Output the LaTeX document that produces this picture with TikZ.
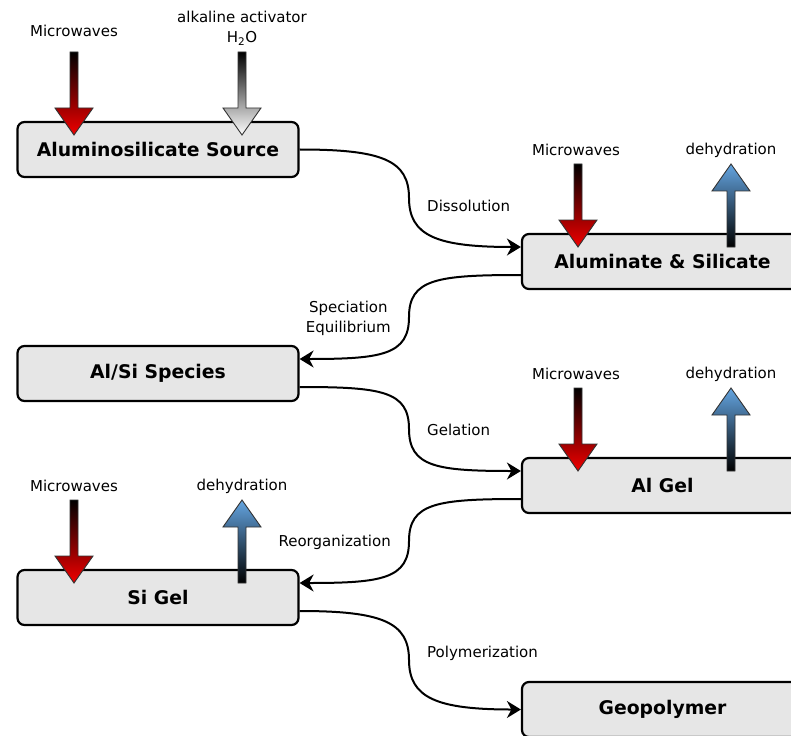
\documentclass[tikz,border=0pt]{standalone}
\usepackage{fontspec}
\setmainfont{DejaVu Sans}
\usetikzlibrary{arrows.meta}
\definecolor{boxgray}{RGB}{230,230,230}
\definecolor{mwred}{RGB}{240,0,0}
\definecolor{dehblue}{RGB}{100,165,225}
\tikzset{
  downarr/.pic={\shade[pic actions] (-4,0) -- (4,0) -- (4,56) -- (19,56) -- (0,83) -- (-19,56) -- (-4,56) -- cycle;},
  uparr/.pic={\shade[pic actions] (-4,0) -- (4,0) -- (4,-56) -- (19,-56) -- (0,-83) -- (-19,-56) -- (-4,-56) -- cycle;},
}
\begin{document}
\begin{tikzpicture}[x=1pt,y=-1pt,
  box/.style={draw=black, line width=2.2pt, fill=boxgray, rounded corners=7pt,
    minimum width=281pt, minimum height=55pt, inner sep=0pt,
    font=\fontsize{18.8}{22}\selectfont\bfseries},
  lbl/.style={font=\fontsize{15}{20}\selectfont, inner sep=0pt, align=center},
  conn/.style={line width=2pt, -{Stealth[length=14pt,width=17pt,inset=4.5pt]}},
  redarr/.style={draw=black!80, line width=0.9pt, top color=black, bottom color=mwred},
  grayarr/.style={draw=black!80, line width=0.9pt, top color=black, bottom color=white},
  bluearr/.style={draw=black!80, line width=0.9pt, top color=dehblue, bottom color=black},
]
\clip (0,0) rectangle (791,735);

% boxes
\node[box] (src) at (158,149.5) {Aluminosilicate Source};
\node[box] (als) at (662.5,261.5) {Aluminate \& Silicate};
\node[box] (spe) at (158,373.5) {Al/Si Species};
\node[box] (alg) at (662.5,485.5) {Al Gel};
\node[box] (sig) at (158,597.5) {Si Gel};
\node[box] (geo) at (662.5,709.5) {Geopolymer};

% block arrows
\pic[redarr] at (74,52) {downarr};
\pic[grayarr] at (242,52) {downarr};
\pic[redarr] at (578,164) {downarr};
\pic[bluearr] at (731,247) {uparr};
\pic[redarr] at (578,388) {downarr};
\pic[bluearr] at (731,471) {uparr};
\pic[redarr] at (74,500) {downarr};
\pic[bluearr] at (242,583) {uparr};

% arrow labels
\node[lbl] (t1) at (74,31) {Microwaves};
\node[lbl] (t2) at (242,28) {alkaline activator\\H\textsubscript{2}O};
\node[lbl] (t3) at (576,150) {Microwaves};
\node[lbl] (t4) at (731,150) {dehydration};
\node[lbl] (t5) at (576,374) {Microwaves};
\node[lbl] (t6) at (731,374) {dehydration};
\node[lbl] (t7) at (74,486) {Microwaves};
\node[lbl] (t8) at (242,486) {dehydration};

% connectors
\coordinate (m1) at (409,198);
\coordinate (m2) at (409,317);
\coordinate (m3) at (409,429);
\coordinate (m4) at (409,541);
\coordinate (m5) at (409,660);
\draw[conn] (src.east) .. controls +(82,0) and +(0,-38) .. (m1)
  .. controls +(0,38) and +(-84,0) .. ([yshift=14.5pt]als.west);
\draw[conn] ([yshift=-13.5pt]als.west) .. controls +(-84,0) and +(0,-38) .. (m2)
  .. controls +(0,38) and +(82,0) .. ([yshift=14.5pt]spe.east);
\draw[conn] ([yshift=-13.5pt]spe.east) .. controls +(82,0) and +(0,-38) .. (m3)
  .. controls +(0,38) and +(-84,0) .. ([yshift=14.5pt]alg.west);
\draw[conn] ([yshift=-13.5pt]alg.west) .. controls +(-84,0) and +(0,-38) .. (m4)
  .. controls +(0,38) and +(82,0) .. ([yshift=14.5pt]sig.east);
\draw[conn] ([yshift=-13.5pt]sig.east) .. controls +(82,0) and +(0,-38) .. (m5)
  .. controls +(0,38) and +(-84,0) .. (geo.west);

% connector labels
\node[lbl, anchor=west] (c1) at (427,206) {Dissolution};
\node[lbl, anchor=east] (c2) at (391,318) {Speciation\\Equilibrium};
\node[lbl, anchor=west] (c3) at (427,430) {Gelation};
\node[lbl, anchor=east] (c4) at (391,542) {Reorganization};
\node[lbl, anchor=west] (c5) at (427,653) {Polymerization};
\end{tikzpicture}
\end{document}
